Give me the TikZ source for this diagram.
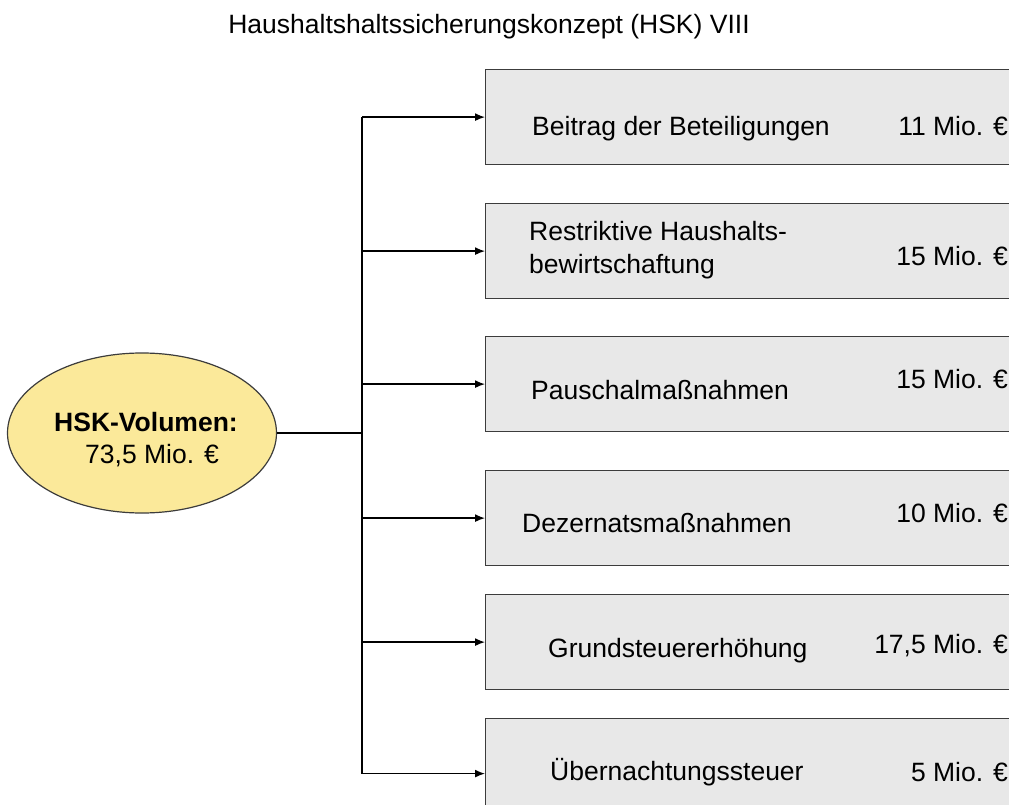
\documentclass[tikz,border=0pt]{standalone}
\usepackage{fontspec}
\setmainfont{Liberation Sans}
\usetikzlibrary{shapes.geometric}
\usetikzlibrary{arrows.meta}

\definecolor{boxgray}{HTML}{E8E8E8}
\definecolor{ovalyellow}{HTML}{FBE99A}
\definecolor{edgegray}{HTML}{3C3C3C}

\begin{document}
\begin{tikzpicture}[
        x=1pt, y=-1pt, >={Latex[length=10pt,width=8pt]},
        font=\fontsize{26.5}{33}\selectfont,
        hskbox/.style={draw=edgegray, fill=boxgray, line width=1.2pt,
                       anchor=north west, minimum width=600pt,
                       minimum height=95pt, inner sep=0pt},
        itemtext/.style={anchor=west, inner sep=0pt, align=left},
        itemvalue/.style={anchor=east, inner sep=0pt},
        branch/.style={->, line width=1.4pt},
    ]
    \clip (0,0) rectangle (1009,805);

    \node (title) at (489, 27) {Haushaltshaltssicherungskonzept (HSK) VIII};

    \node[ellipse, draw=edgegray, fill=ovalyellow, line width=1.2pt,
          minimum width=269pt, minimum height=160pt]
         (volumen) at (142, 433) {};
    \node[align=center, inner sep=0pt, font=\fontsize{26.5}{32}\selectfont]
         (volumentext) at (146, 440)
         {\textbf{HSK-Volumen:}\\ \hspace*{12pt}73,5 Mio. €};

    \node[hskbox] (beitrag)  at (485, 69)  {};
    \node[hskbox] (restrikt) at (485, 203) {};
    \node[hskbox] (pauschal) at (485, 336) {};
    \node[hskbox] (dezernat) at (485, 470) {};
    \node[hskbox] (grund)    at (485, 594) {};
    \node[hskbox, minimum height=110pt] (nacht) at (485, 718) {};

    \node[itemtext] (beitragtext)  at (532, 129) {Beitrag der Beteiligungen};
    \node[itemtext] (restrikttext) at (529, 250) {Restriktive Haushalts-\\bewirtschaftung};
    \node[itemtext] (pauschaltext) at (531, 390) {Pauschalmaßnahmen};
    \node[itemtext] (dezernattext) at (522, 523) {Dezernatsmaßnahmen};
    \node[itemtext] (grundtext)    at (548, 651) {Grundsteuererhöhung};
    \node[itemtext] (nachttext)    at (550, 772) {Übernachtungssteuer};

    \node[itemvalue] (beitragwert)  at (1008, 126) {11 Mio. €};
    \node[itemvalue] (restriktwert) at (1008, 256) {15 Mio. €};
    \node[itemvalue] (pauschalwert) at (1008, 379) {15 Mio. €};
    \node[itemvalue] (dezernatwert) at (1008, 513) {10 Mio. €};
    \node[itemvalue] (grundwert)    at (1008, 646) {17,5 Mio. €};
    \node[itemvalue] (nachtwert)    at (1008, 772) {5 Mio. €};

    \coordinate (fork) at (362, 433);
    \draw[line width=2.2pt] (volumen.east) -- (fork);
    \draw[line width=2.2pt] (fork |- beitrag.west) -- (fork |- nacht.west);
    \foreach \b in {beitrag, restrikt, pauschal, dezernat, grund, nacht}
        \draw[branch] (fork |- \b.west) -- (\b.west);

    \end{tikzpicture}
\end{document}
